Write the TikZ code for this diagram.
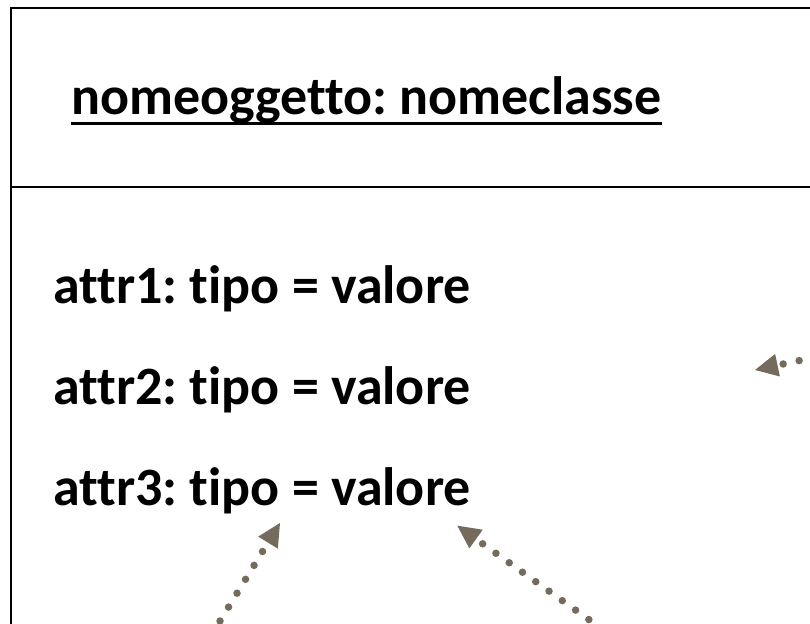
\documentclass[tikz,border=0pt]{standalone}
\usepackage{fontspec}
\setmainfont{Carlito}[Ligatures={NoCommon}]
\usetikzlibrary{arrows.meta}
\definecolor{arrowgray}{HTML}{756B5D}
\frenchspacing
\begin{document}
\begin{tikzpicture}[x=1pt,y=-1pt,
  txt/.style={anchor=base west, inner sep=0pt, font=\fontsize{54}{60}\selectfont\bfseries},
  frame/.style={draw=black, line width=2.2pt},
  dotarrow/.style={draw=arrowgray, line width=7.5pt, line cap=round, dash pattern=on 0pt off 16.3pt,
    -{Triangle[length=23pt,width=23pt,line width'=0pt,color=arrowgray]}}]
\useasboundingbox (0,0) rectangle (810,623);
\clip (0,0) rectangle (810,623);
\coordinate (tl) at (11,8);
\coordinate (br) at (840,660);
\coordinate (dl) at (11,187);
\coordinate (dr) at (840,187);
\draw[frame] (tl) rectangle (br);
\draw[frame] (dl) -- (dr);
\node[txt] (title) at (71,114) {nomeoggetto: nomeclasse};
\draw[line width=3pt] ([yshift=-9pt]title.base west) -- ([yshift=-9pt]title.base east);
\node[txt] (a1) at (53,303) {attr1: tipo = valore};
\node[txt] (a2) at (53,404) {attr2: tipo = valore};
\node[txt] (a3) at (53,505) {attr3: tipo = valore};
\coordinate (s1) at (211.5,634.9);
\coordinate (t1) at (280,523);
\coordinate (s2) at (602.1,629);
\coordinate (t2) at (457.3,525.7);
\coordinate (s3) at (831,353.8);
\coordinate (t3) at (755,370);
\draw[dotarrow] (s1) -- (t1);
\draw[dotarrow] (s2) -- (t2);
\draw[dotarrow] (s3) -- (t3);
\end{tikzpicture}
\end{document}
